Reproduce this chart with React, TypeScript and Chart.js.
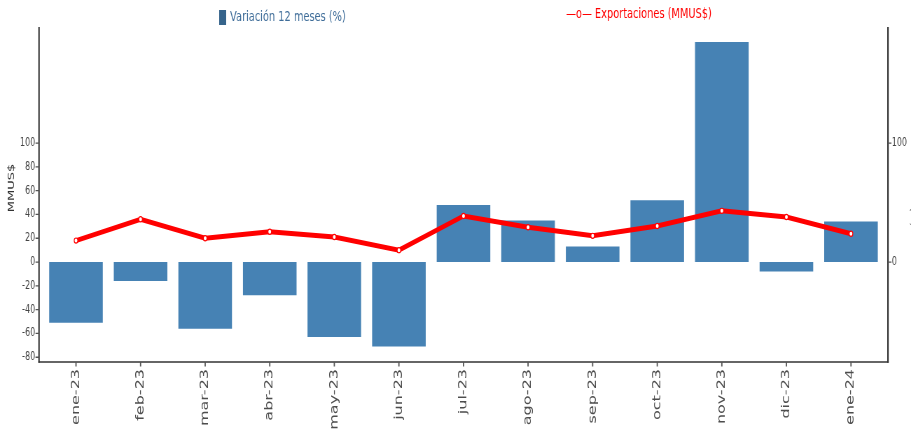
import React, { useEffect, useRef } from 'react';
import { Chart, registerables } from 'chart.js';
Chart.register(...registerables);

const categories = ['ene-23', 'feb-23', 'mar-23', 'abr-23', 'may-23', 'jun-23', 'jul-23', 'ago-23', 'sep-23', 'oct-23', 'nov-23', 'dic-23', 'ene-24'];
const variacion = [-51, -16, -56, -28, -63, -71, 48, 35, 13, 52, 185, -8, 34];
const exportaciones = [18, 36, 20, 25.5, 21, 10, 38.7, 29.2, 22, 30.3, 43, 37.8, 23.8];
const leftTicks = [-80, -60, -40, -20, 0, 20, 40, 60, 80, 100];
const rightTicks = [0, 100];
const yMin = -84;
const yMax = 197.5;

const legendBar = 'Variación 12 meses (%)';
const legendLine = '—o— Exportaciones (MMUS$)';
const leftTitle = 'MMUS$';
const rightTitle = 'Variación (%)';

const W = 1301;
const H = 431;
const K = 911 / 1301;
const FONT = '"DejaVu Sans", sans-serif';

const framePlugin = {
  id: 'frame',
  afterDraw(chart: any) {
    const { ctx, chartArea: ca, scales } = chart;
    const lx = ca.left - 6.7;
    const rx = ca.right + 6.7;
    ctx.save();
    ctx.strokeStyle = '#333333';
    ctx.lineWidth = 2.1;
    ctx.beginPath();
    ctx.moveTo(lx, ca.top);
    ctx.lineTo(lx, ca.bottom + 0.75);
    ctx.moveTo(rx, ca.top);
    ctx.lineTo(rx, ca.bottom + 0.75);
    ctx.stroke();
    ctx.lineWidth = 1.5;
    ctx.beginPath();
    ctx.moveTo(lx - 1, ca.bottom);
    ctx.lineTo(rx + 1, ca.bottom);
    ctx.stroke();
    ctx.strokeStyle = '#555555';
    ctx.lineWidth = 1.3;
    ctx.beginPath();
    leftTicks.forEach((v) => {
      const py = scales.y.getPixelForValue(v);
      ctx.moveTo(lx - 5, py);
      ctx.lineTo(lx, py);
    });
    rightTicks.forEach((v) => {
      const py = scales.y1.getPixelForValue(v);
      ctx.moveTo(rx, py);
      ctx.lineTo(rx + 5, py);
    });
    ctx.stroke();
    ctx.lineWidth = 1.8;
    ctx.beginPath();
    categories.forEach((_, i) => {
      const px = scales.x.getPixelForValue(i);
      ctx.moveTo(px, ca.bottom);
      ctx.lineTo(px, ca.bottom + 4.5);
    });
    ctx.stroke();

    ctx.textBaseline = 'middle';
    ctx.textAlign = 'left';
    ctx.font = `14px ${FONT}`;
    ctx.fillStyle = '#36648B';
    ctx.fillRect(313, 10, 10, 15);
    ctx.fillStyle = '#3f6d99';
    ctx.fillText(legendBar, 328.6, 17.5);
    ctx.fillStyle = '#ff0000';
    ctx.fillText(legendLine, 808.6, 14.5);

    ctx.fillStyle = '#333333';
    ctx.font = `13px ${FONT}`;
    ctx.textAlign = 'center';
    ctx.save();
    ctx.translate(16.5, 188);
    ctx.rotate(-Math.PI / 2);
    ctx.fillText(leftTitle, 0, 0);
    ctx.restore();
    ctx.font = `11px ${FONT}`;
    ctx.save();
    ctx.translate(1303.5, 190);
    ctx.rotate(Math.PI / 2);
    ctx.fillText(rightTitle, 0, 0);
    ctx.restore();
    ctx.restore();
  },
};

export default function App() {
  const ref = useRef<HTMLCanvasElement | null>(null);

  useEffect(() => {
    if (!ref.current) return;
    const chart = new Chart(ref.current, {
      type: 'bar',
      data: {
        labels: categories,
        datasets: [
          {
            type: 'line',
            label: 'Exportaciones (MMUS$)',
            data: exportaciones,
            yAxisID: 'y',
            borderColor: '#ff0000',
            borderWidth: 5,
            pointRadius: 2.6,
            pointBackgroundColor: '#ffffff',
            pointBorderColor: '#ff0000',
            pointBorderWidth: 1.2,
            tension: 0,
            order: 0,
          } as any,
          {
            type: 'bar',
            label: 'Variación 12 meses (%)',
            data: variacion,
            yAxisID: 'y',
            backgroundColor: '#4682B4',
            barPercentage: 0.83,
            categoryPercentage: 1,
            order: 1,
          },
        ],
      },
      options: {
        animation: false,
        responsive: false,
        maintainAspectRatio: false,
        layout: { padding: { top: 27, left: 0, right: 0, bottom: 0 } },
        plugins: { legend: { display: false }, tooltip: { enabled: false } },
        scales: {
          x: {
            type: 'category',
            offset: true,
            grid: { display: false, drawTicks: false },
            border: { display: false },
            ticks: {
              autoSkip: false,
              maxRotation: 90,
              minRotation: 90,
              padding: 7,
              color: '#4d4d4d',
              font: { family: FONT, size: 16 },
            },
            afterFit: (s: any) => {
              s.height = 69;
            },
          },
          y: {
            position: 'left',
            min: yMin,
            max: yMax,
            grid: { display: false, drawTicks: false },
            border: { display: false },
            ticks: {
              padding: 12,
              color: '#444444',
              font: { family: FONT, size: 11.5 },
            },
            afterBuildTicks: (s: any) => {
              s.ticks = leftTicks.map((v) => ({ value: v }));
            },
            afterFit: (s: any) => {
              s.width = 62.4;
            },
          },
          y1: {
            position: 'right',
            min: yMin,
            max: yMax,
            grid: { display: false, drawTicks: false },
            border: { display: false },
            ticks: {
              padding: 12,
              color: '#444444',
              font: { family: FONT, size: 11.5 },
            },
            afterBuildTicks: (s: any) => {
              s.ticks = rightTicks.map((v) => ({ value: v }));
            },
            afterFit: (s: any) => {
              s.width = 39.6;
            },
          },
        },
      } as any,
      plugins: [framePlugin],
    });
    return () => chart.destroy();
  }, []);

  return (
    <div style={{ position: 'fixed', left: 0, top: 0, width: 911, height: 431, overflow: 'hidden', background: '#ffffff' }}>
      <div style={{ width: W, height: H, transform: `scaleX(${K})`, transformOrigin: '0 0' }}>
        <canvas ref={ref} width={W} height={H} style={{ display: 'block', width: W, height: H }} />
      </div>
    </div>
  );
}
